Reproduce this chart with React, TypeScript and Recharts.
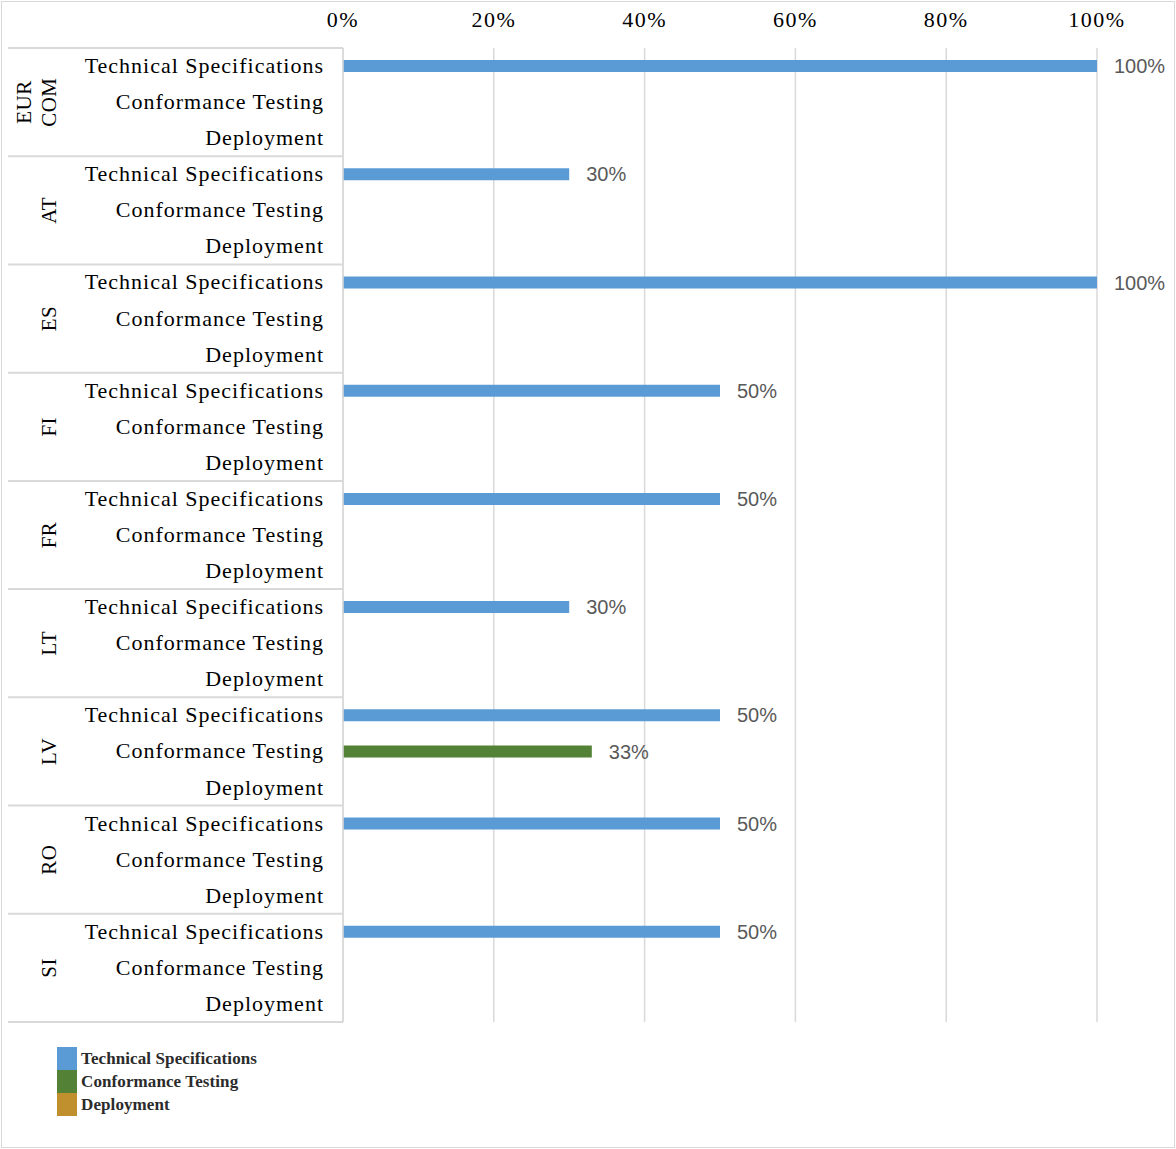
import { Bar, BarChart, CartesianGrid, LabelList, XAxis, YAxis } from 'recharts';

const countries = ['EUR COM', 'AT', 'ES', 'FI', 'FR', 'LT', 'LV', 'RO', 'SI'];
const seriesNames = ['Technical Specifications', 'Conformance Testing', 'Deployment'];
const seriesColors = ['#5B9BD5', '#538135', '#C0902F'];
const techSpec = [100, 30, 100, 50, 50, 30, 50, 50, 50];
const confTest = [0, 0, 0, 0, 0, 0, 33, 0, 0];
const deploy = [0, 0, 0, 0, 0, 0, 0, 0, 0];
const xTicks = [0, 20, 40, 60, 80, 100];

const seriesValues = [techSpec, confTest, deploy];
const keys = ['tech', 'conf', 'dep'];

// one row per (country, series); only that series carries a value in its row
const rows = countries.flatMap((c, ci) =>
  seriesNames.map((s, si) => {
    const row: any = { id: `${c}|${s}`, country: c, label: s, pos: si, tech: 0, conf: 0, dep: 0 };
    row[keys[si]] = seriesValues[si][ci];
    return row;
  })
);

const W = 1176;
const H = 1149;
const TOP = 48;
const BOTTOM = 127;
const rowH = (H - TOP - BOTTOM) / rows.length;
const serif = '"Liberation Serif", "Times New Roman", serif';
const sans = '"Liberation Sans", Arial, sans-serif';

function RowTick(props: any) {
  const { x, y, payload } = props;
  const row = rows[payload.index];
  const groupIdx = Math.floor(payload.index / 3);
  const lastGroup = groupIdx === countries.length - 1;
  const lines = row.country.split(' ');
  return (
    <g>
      <text
        x={x + 1}
        y={y}
        dy={7}
        textAnchor="end"
        fontFamily={serif}
        fontSize={22}
        letterSpacing={1}
        fill="#000"
      >
        {row.label}
      </text>
      {row.pos === 0 && (
        <line x1={x - 315} x2={x + 20} y1={y - rowH / 2} y2={y - rowH / 2} stroke="#d9d9d9" strokeWidth={2} />
      )}
      {row.pos === 2 && lastGroup && (
        <line x1={x - 315} x2={x + 20} y1={y + rowH / 2} y2={y + rowH / 2} stroke="#d9d9d9" strokeWidth={2} />
      )}
      {row.pos === 1 &&
        lines.map((ln: string, i: number) => {
          const cx = x - 274 - (lines.length - 1 - i) * 25;
          return (
            <text
              key={ln}
              x={cx}
              y={y}
              dy={7}
              textAnchor="middle"
              fontFamily={serif}
              fontSize={21}
              letterSpacing={0.5}
              fill="#000"
              transform={`rotate(-90 ${cx} ${y})`}
            >
              {ln}
            </text>
          );
        })}
    </g>
  );
}

const pct = (v: any) => (v ? `${v}%` : '');

export default function App() {
  return (
    <div style={{ position: 'absolute', left: 0, top: 0, width: W, height: H, background: '#fff' }}>
      <div
        style={{
          position: 'absolute',
          left: 1,
          top: 1,
          width: W - 4,
          height: H - 4,
          border: '1px solid #d9d9d9',
        }}
      />
      <BarChart
        width={W}
        height={H}
        data={rows}
        layout="vertical"
        margin={{ top: TOP - 30, right: 79, bottom: BOTTOM, left: 0 }}
        barCategoryGap={0}
      >
        <CartesianGrid horizontal={false} stroke="#d9d9d9" strokeWidth={1.5} />
        <XAxis
          type="number"
          orientation="top"
          domain={[0, 100]}
          ticks={xTicks}
          tickFormatter={(v) => `${v}%`}
          axisLine={false}
          tickLine={false}
          tickMargin={15}
          height={30}
          interval={0}
          tick={{ fill: '#000', fontSize: 22, fontFamily: serif, letterSpacing: 1.5 }}
        />
        <YAxis
          type="category"
          dataKey="id"
          width={343}
          interval={0}
          tickLine={false}
          tickMargin={14}
          axisLine={{ stroke: '#d9d9d9', strokeWidth: 1.5 }}
          tick={<RowTick />}
        />
        {keys.map((k, i) => (
          <Bar key={k} dataKey={k} stackId="a" fill={seriesColors[i]} barSize={12} isAnimationActive={false}>
            <LabelList
              dataKey={k}
              position="right"
              offset={17}
              formatter={pct}
              fill="#595959"
              fontSize={20}
              fontFamily={sans}
            />
          </Bar>
        ))}
      </BarChart>
      <div style={{ position: 'absolute', left: 57, top: 1047 }}>
        {seriesNames.map((s, i) => (
          <div key={s} style={{ display: 'flex', alignItems: 'center', height: 23 }}>
            <div style={{ width: 20, height: 23, background: seriesColors[i] }} />
            <span
              style={{
                marginLeft: 4,
                fontFamily: serif,
                fontSize: 17,
                fontWeight: 'bold',
                color: '#2b2b2b',
                letterSpacing: 0.1,
              }}
            >
              {s}
            </span>
          </div>
        ))}
      </div>
    </div>
  );
}
